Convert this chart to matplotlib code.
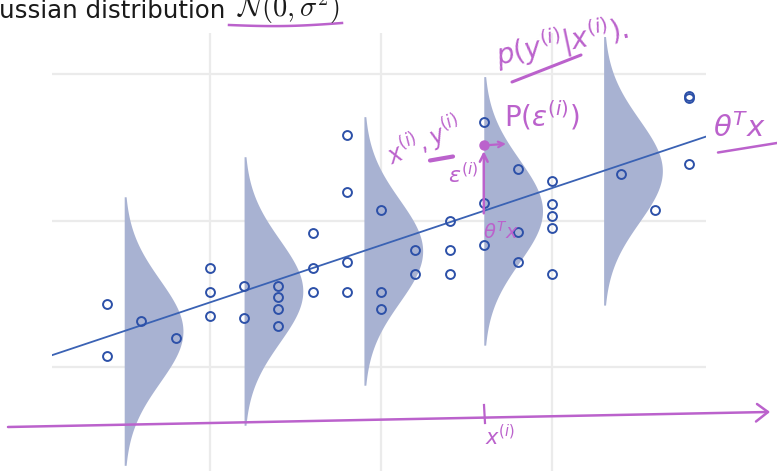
import numpy as np
import matplotlib
matplotlib.use("Agg")
import matplotlib.pyplot as plt

# ---- data -------------------------------------------------------------
point_x = [0.4, 0.4,
           0.6,
           0.8,
           1.0, 1.0, 1.0,
           1.2, 1.2,
           1.4, 1.4, 1.4, 1.4,
           1.6, 1.6, 1.6,
           1.8, 1.8, 1.8, 1.8,
           2.0, 2.0, 2.0,
           2.2, 2.2,
           2.4, 2.4, 2.4,
           2.6, 2.6, 2.6,
           2.8, 2.8, 2.8,
           3.0, 3.0, 3.0, 3.0, 3.0,
           3.4,
           3.6,
           3.8, 3.8, 3.8]
point_y = [2.59, 0.46,
           1.88,
           1.19,
           4.07, 3.08, 2.10,
           3.30, 1.99,
           3.30, 2.87, 2.38, 1.67,
           5.49, 4.07, 3.08,
           9.50, 7.18, 4.29, 3.08,
           6.42, 3.08, 2.38,
           4.79, 3.80,
           5.98, 4.79, 3.80,
           10.02, 6.70, 5.00,
           8.11, 5.52, 4.29,
           7.60, 6.69, 6.20, 5.70, 3.80,
           7.89,
           6.42,
           11.10, 11.00, 8.31]

# fitted line  y = intercept + slope * x
intercept = 0.30
slope = 2.344

# noise densities drawn along the line
density_x = [0.5, 1.2, 1.9, 2.6, 3.3]
sigma = 2.1
density_halfspan = 5.5
density_peak = 0.343

# highlighted sample (x^(i), y^(i))
sample_x = 2.6
sample_y = 9.09

# ---- figure -----------------------------------------------------------
W, H = 777, 471
fig = plt.figure(figsize=(W / 100, H / 100), dpi=100)
fig.patch.set_facecolor("white")

ax = fig.add_axes([52.3 / W, 0, (705.5 - 52.3) / W, (H - 33) / H])
ax.set_xlim(0.08, 3.895)
ax.set_ylim(-4.26, 13.68)
for s in ax.spines.values():
    s.set_visible(False)
ax.set_xticks([1, 2, 3])
ax.set_yticks([0, 6, 12])
ax.tick_params(length=0, labelbottom=False, labelleft=False)
ax.set_axisbelow(True)
ax.grid(True, color="#ebebeb", lw=1.6)

fill_col = "#a8b2d2"
line_col = "#3a62b4"
mark_col = "#2c50a8"
purple = "#bb62cc"

for x0 in density_x:
    mu = intercept + slope * x0
    yy = np.linspace(mu - density_halfspan, mu + density_halfspan, 300)
    w = density_peak * np.exp(-(yy - mu) ** 2 / (2 * sigma ** 2))
    ax.fill_betweenx(yy, x0, x0 + w, color=fill_col, lw=0, zorder=1)

xl = np.array(ax.get_xlim())
ax.plot(xl, intercept + slope * xl, color=line_col, lw=1.3, zorder=2)

ax.plot(point_x, point_y, "o", ms=6.4, mfc="none", mec=mark_col, mew=1.4,
        zorder=3, clip_on=False)

# highlighted sample, residual arrow and its density pointer
line_at_sample = intercept + slope * sample_x
ax.plot([sample_x], [sample_y], "o", ms=6.5, color=purple, zorder=5)
ax.annotate("", xy=(sample_x, sample_y - 0.25),
            xytext=(sample_x, line_at_sample - 0.1),
            arrowprops=dict(arrowstyle="->", color=purple, lw=1.8,
                            shrinkA=0, shrinkB=0, mutation_scale=14),
            zorder=5)
ax.annotate("", xy=(sample_x + 0.13, sample_y + 0.05),
            xytext=(sample_x + 0.03, sample_y),
            arrowprops=dict(arrowstyle="->", color=purple, lw=1.6,
                            shrinkA=0, shrinkB=0, mutation_scale=10),
            zorder=5)

# ---- overlay in pixel units for the pen annotations -------------------
ov = fig.add_axes([0, 0, 1, 1])
ov.set_xlim(0, W)
ov.set_ylim(H, 0)
ov.axis("off")
ov.patch.set_alpha(0)

ov.text(-1, 17.5, "ussian distribution", fontsize=17.6, color="#1a1a1a",
        va="baseline", ha="left", family="DejaVu Sans")
ov.text(237, 17.5, r"$\mathcal{N}(0,\sigma^2)$", fontsize=20.5,
        color="#1a1a1a", va="baseline", ha="left", math_fontfamily="cm")

# underline of N(0, sigma^2)
t = np.linspace(0, 1, 30)
ov.plot(229 + 113 * t, 25 + 2 * np.sin(np.pi * t) - 2 * t, color=purple, lw=1.8)

# horizontal axis sketch
ov.plot([8, 768], [427, 412], color=purple, lw=1.8, solid_capstyle="round")
ov.plot([757, 768, 756], [404, 412, 421.5], color=purple, lw=1.8,
        solid_capstyle="round", solid_joinstyle="round")
ov.plot([484, 485], [405, 423], color=purple, lw=1.6)
ov.text(500, 437, r"$x^{(i)}$", fontsize=15, color=purple, ha="center",
        va="center")

pen = dict(color=purple, ha="center", va="center")
ov.text(562, 42, r"$p(y^{(i)}|x^{(i)}).$", fontsize=20, rotation=12, **pen)
ov.plot([512, 581], [82, 55], color=purple, lw=2.2, solid_capstyle="round")

ov.text(424, 142, r"$x^{(i)},y^{(i)}$", fontsize=17, rotation=24, **pen)
ov.plot([430, 453], [160.5, 156.5], color=purple, lw=3, solid_capstyle="round")

ov.text(542, 116, r"$\mathrm{P}(\varepsilon^{(i)})$", fontsize=20, **pen)
ov.text(463, 175, r"$\varepsilon^{(i)}$", fontsize=16, **pen)
ov.text(501, 232, r"$\theta^{T}x$", fontsize=14, **pen)

ov.text(739, 128, r"$\theta^{T}x$", fontsize=21, **pen)
ov.plot([718, 777], [152.5, 143], color=purple, lw=1.8, solid_capstyle="round")

fig.savefig("out.png", dpi=100)
